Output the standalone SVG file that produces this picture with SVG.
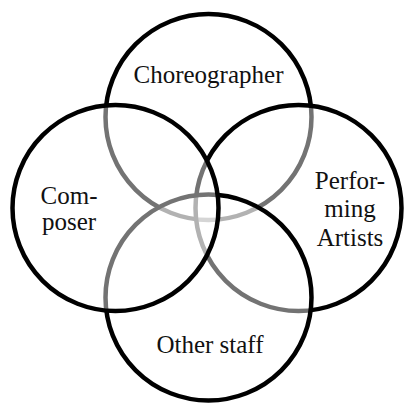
<svg xmlns="http://www.w3.org/2000/svg" width="405" height="407" viewBox="0 0 405 407">
<style>
.c{fill:#fff;fill-opacity:0.45;stroke:#000;stroke-width:4.5}
.t{font-family:"Liberation Serif","DejaVu Serif",serif;font-size:25px;fill:#111;text-anchor:middle}
</style>
<rect width="405" height="407" fill="#fff"/>
<g id="choreographer">
<circle class="c" cx="208.5" cy="117" r="103"/>
<text class="t" x="208.5" y="83">Choreographer</text>
</g>
<g id="performing-artists">
<circle class="c" cx="298.5" cy="208" r="103"/>
<text class="t" x="350" y="189">Perfor-</text>
<text class="t" x="350" y="217">ming</text>
<text class="t" x="350" y="246">Artists</text>
</g>
<g id="other-staff">
<circle class="c" cx="208.5" cy="297.5" r="103"/>
<text class="t" x="210" y="353">Other staff</text>
</g>
<g id="composer">
<circle class="c" cx="115.5" cy="208" r="103"/>
<text class="t" x="69" y="204">Com-</text>
<text class="t" x="69" y="230">poser</text>
</g>
<g id="connectors"/>
</svg>
